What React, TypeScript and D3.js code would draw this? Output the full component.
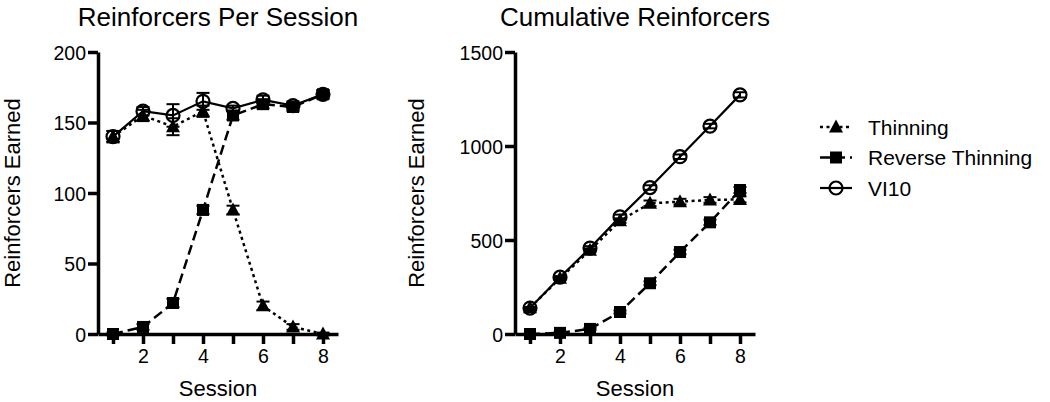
import * as d3 from "d3";
import { useEffect, useRef } from "react";

const sessions = [1, 2, 3, 4, 5, 6, 7, 8];

// Reinforcers per session
const perThinning = [140, 155, 147, 158, 88, 20, 5, 0];
const perThinningErr = [4, 4, 6, 4, 3, 3, 2, 1];
const perReverse = [0, 5, 22, 88, 155, 163, 161, 170];
const perReverseErr = [1, 2, 3, 3, 3, 3, 3, 3];
const perVI10 = [140, 158, 155, 165, 160, 166, 162, 170];
const perVI10Err = [4, 3, 8, 6, 2, 3, 3, 3];

// Cumulative reinforcers
const cumThinning = [140, 296, 445, 603, 695, 704, 713, 716];
const cumThinningErr = [4, 6, 10, 12, 15, 15, 15, 16];
const cumReverse = [0, 6, 27, 117, 270, 436, 594, 766];
const cumReverseErr = [1, 2, 5, 8, 10, 12, 14, 16];
const cumVI10 = [138, 302, 457, 623, 779, 943, 1106, 1272];
const cumVI10Err = [4, 6, 10, 12, 12, 12, 12, 14];

const xTicks = [1, 2, 3, 4, 5, 6, 7, 8];
const xTickLabels = ["", "2", "", "4", "", "6", "", "8"];
const perYTicks = [0, 50, 100, 150, 200];
const cumYTicks = [0, 500, 1000, 1500];

const legendLabels = ["Thinning", "Reverse Thinning", "VI10"];

const FONT = "'Liberation Sans', Arial, Helvetica, sans-serif";

type Series = { key: string; values: number[]; err: number[]; dash: string | null; width: number; marker: "tri" | "sq" | "circ" };

function drawMarker(sel: d3.Selection<SVGGElement, unknown, null, undefined>, marker: string) {
  if (marker === "tri") {
    sel.append("path").attr("d", "M0,-7.5L7,5.5L-7,5.5Z").attr("fill", "#000");
  } else if (marker === "sq") {
    sel.append("rect").attr("x", -6).attr("y", -6).attr("width", 12).attr("height", 12).attr("fill", "#000");
  } else {
    sel.append("circle").attr("r", 6.5).attr("fill", "none").attr("stroke", "#000").attr("stroke-width", 2.2);
  }
}

function panel(
  svg: d3.Selection<SVGSVGElement, unknown, null, undefined>,
  opts: { left: number; right: number; top: number; bottom: number; yMax: number; yTicks: number[]; title: string; series: Series[]; yLabelX: number }
) {
  const x = d3.scaleLinear().domain([0.5, 8.5]).range([opts.left, opts.right]);
  const y = d3.scaleLinear().domain([0, opts.yMax]).range([opts.bottom, opts.top]);
  const g = svg.append("g");

  // series: lines first, then error bars and markers on top
  opts.series.forEach((s) => {
    const line = d3
      .line<number>()
      .x((_, i) => x(sessions[i]))
      .y((d) => y(d));
    g.append("path")
      .datum(s.values)
      .attr("fill", "none")
      .attr("stroke", "#000")
      .attr("stroke-width", s.width)
      .attr("stroke-dasharray", s.dash)
      .attr("d", line);
  });

  opts.series.forEach((s) => {
    s.values.forEach((v, i) => {
      const cx = x(sessions[i]);
      const y0 = y(v - s.err[i]);
      const y1 = y(v + s.err[i]);
      g.append("line").attr("x1", cx).attr("x2", cx).attr("y1", y0).attr("y2", y1).attr("stroke", "#000").attr("stroke-width", 2);
      [y0, y1].forEach((yy) =>
        g.append("line").attr("x1", cx - 6.5).attr("x2", cx + 6.5).attr("y1", yy).attr("y2", yy).attr("stroke", "#000").attr("stroke-width", 2)
      );
      const m = g.append("g").attr("transform", `translate(${cx},${y(v)})`);
      drawMarker(m, s.marker);
    });
  });

  // axes
  const ax = svg
    .append("g")
    .attr("transform", `translate(0,${opts.bottom})`)
    .call(
      d3
        .axisBottom(x)
        .tickValues(xTicks)
        .tickSize(10)
        .tickPadding(5)
        .tickSizeOuter(0)
        .tickFormat((_, i) => xTickLabels[i])
    );
  const ay = svg
    .append("g")
    .attr("transform", `translate(${opts.left},0)`)
    .call(d3.axisLeft(y).tickValues(opts.yTicks).tickSize(10).tickPadding(2).tickSizeOuter(0).tickFormat(d3.format("d")));

  [ax, ay].forEach((a) => {
    a.selectAll(".domain").attr("stroke", "#000").attr("stroke-width", 3.5);
    a.selectAll(".tick line").attr("stroke", "#000").attr("stroke-width", 3.5);
    a.selectAll("text").attr("fill", "#000").style("font-family", FONT).style("font-size", "19.5px");
  });
  ay.selectAll("text").attr("dy", "0.36em");

  const cx = (opts.left + opts.right) / 2;
  svg
    .append("text")
    .attr("x", cx)
    .attr("y", 26)
    .attr("text-anchor", "middle")
    .style("font-family", FONT)
    .style("font-size", "26px")
    .text(opts.title);

  svg
    .append("text")
    .attr("x", cx)
    .attr("y", 396)
    .attr("text-anchor", "middle")
    .style("font-family", FONT)
    .style("font-size", "22px")
    .text("Session");

  svg
    .append("text")
    .attr("transform", `translate(${opts.yLabelX},${(opts.top + opts.bottom) / 2}) rotate(-90)`)
    .attr("text-anchor", "middle")
    .style("font-family", FONT)
    .style("font-size", "22px")
    .text("Reinforcers Earned");
}

export default function App() {
  const ref = useRef<SVGSVGElement | null>(null);

  useEffect(() => {
    if (!ref.current) return;
    const svg = d3.select(ref.current);
    svg.selectAll("*").remove();

    const styles = {
      thin: { dash: "3,3.5", width: 2.5, marker: "tri" as const },
      rev: { dash: "10,5", width: 2.5, marker: "sq" as const },
      vi: { dash: null, width: 2.2, marker: "circ" as const },
    };

    panel(svg, {
      left: 98,
      right: 338,
      top: 52,
      bottom: 334,
      yMax: 200,
      yTicks: perYTicks,
      title: "Reinforcers Per Session",
      yLabelX: 20,
      series: [
        { key: "thin", values: perThinning, err: perThinningErr, ...styles.thin },
        { key: "rev", values: perReverse, err: perReverseErr, ...styles.rev },
        { key: "vi", values: perVI10, err: perVI10Err, ...styles.vi },
      ],
    });

    panel(svg, {
      left: 515,
      right: 755,
      top: 52,
      bottom: 334,
      yMax: 1500,
      yTicks: cumYTicks,
      title: "Cumulative Reinforcers",
      yLabelX: 424,
      series: [
        { key: "thin", values: cumThinning, err: cumThinningErr, ...styles.thin },
        { key: "rev", values: cumReverse, err: cumReverseErr, ...styles.rev },
        { key: "vi", values: cumVI10, err: cumVI10Err, ...styles.vi },
      ],
    });

    // legend
    const legY = d3.scalePoint<string>().domain(legendLabels).range([127, 188]);
    const legStyles = [styles.thin, styles.rev, styles.vi];
    legendLabels.forEach((label, i) => {
      const st = legStyles[i];
      const row = svg.append("g").attr("transform", `translate(820,${legY(label)})`);
      row
        .append("line")
        .attr("x1", 0)
        .attr("x2", 32)
        .attr("stroke", "#000")
        .attr("stroke-width", st.width)
        .attr("stroke-dasharray", st.dash);
      drawMarker(row.append("g").attr("transform", "translate(16,0)"), st.marker);
      row
        .append("text")
        .attr("x", 48)
        .attr("dy", "0.36em")
        .style("font-family", FONT)
        .style("font-size", "21px")
        .text(label);
    });
  }, []);

  return (
    <svg
      ref={ref}
      width={1050}
      height={402}
      style={{ position: "absolute", left: 0, top: 0, background: "#fff" }}
      role="img"
      aria-label="Reinforcers per session and cumulative reinforcers"
    />
  );
}
